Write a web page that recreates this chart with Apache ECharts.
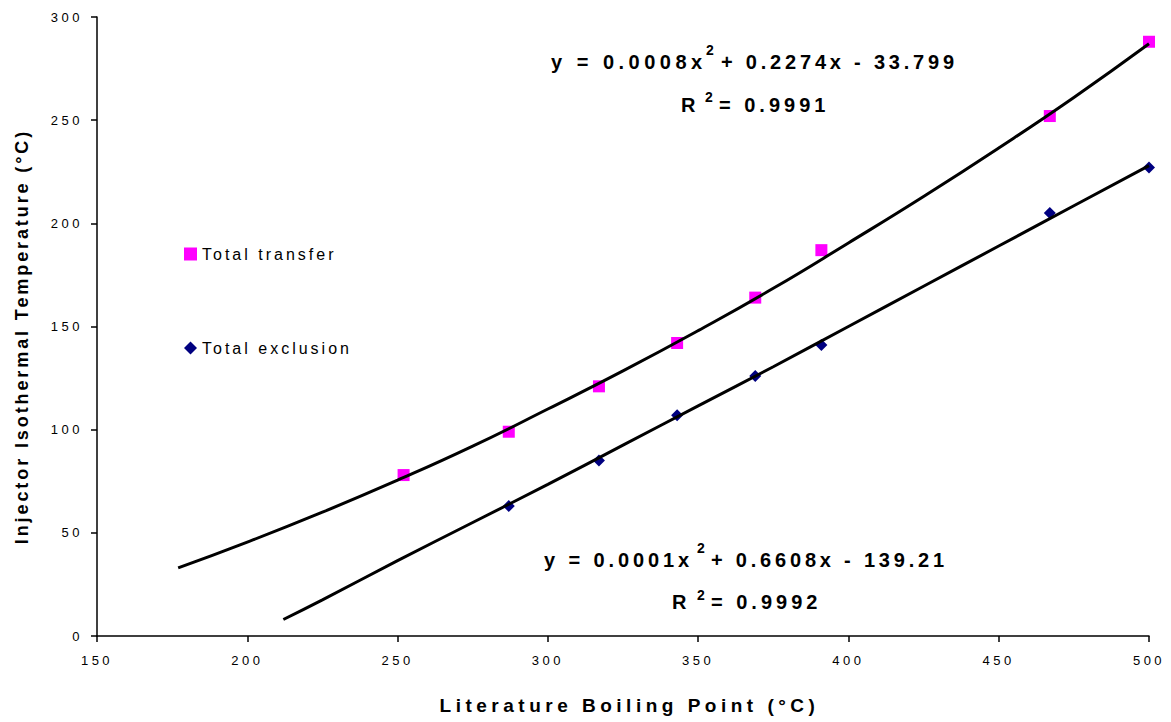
<!DOCTYPE html>
<html>
<head>
<meta charset="utf-8">
<script src="https://cdn.jsdelivr.net/npm/echarts@6/dist/echarts.min.js"></script>
<style>
  html, body { margin: 0; padding: 0; background: #fff; }
  #chart { width: 1171px; height: 722px; }
  #chart text { letter-spacing: 3.5px; }
</style>
</head>
<body>
<div id="chart"></div>
<script>
// ---- data ----
const transferX = [252, 287, 317, 343, 369, 391, 467, 500];
const transferY = [78, 99, 121, 142, 164, 187, 252, 288];
const exclusionX = [287, 317, 343, 369, 391, 467, 500];
const exclusionY = [63, 85, 107, 126, 141, 205, 227];
const transferTrendX = [177, 200, 225, 250, 275, 300, 325, 350, 375, 400, 425, 450, 475, 500];
const transferTrendY = [33, 45.5, 60, 75.5, 92, 110, 128.5, 148, 168.5, 190.5, 213, 236.5, 261, 287];
const exclusionTrendX = [212, 225, 250, 275, 300, 325, 350, 375, 400, 425, 450, 475, 500];
const exclusionTrendY = [8, 17.5, 36.5, 55, 73.5, 92.5, 111.5, 130.5, 150, 169.5, 189, 208.5, 228];
const seriesNames = ['Total transfer', 'Total exclusion'];
const xTitle = 'Literature Boiling Point (°C)';
const yTitle = 'Injector Isothermal Temperature (°C)';
const eqTransfer = ['y = 0.0008x', '2', '+ 0.2274x - 33.799'];
const r2Transfer = ['R', '2', '= 0.9991'];
const eqExclusion = ['y = 0.0001x', '2', '+ 0.6608x - 139.21'];
const r2Exclusion = ['R', '2', '= 0.9992'];

const zip = (xs, ys) => xs.map((x, i) => [x, ys[i]]);
const FONT = '"Liberation Sans", Arial, Helvetica, sans-serif';

// letter spacing (px) per text, applied to the SVG text nodes
const spacing = {};
spacing[xTitle] = 4.5;
spacing[yTitle] = 2.9;
seriesNames.forEach(n => spacing[n] = 3);
spacing[eqTransfer[0]] = 4.5;
spacing[eqExclusion[0]] = 3.9;
spacing['2'] = 0;
spacing[eqTransfer[2]] = 3.8;
spacing[eqExclusion[2]] = 3.8;
spacing['R'] = 0;
spacing[r2Transfer[2]] = 4;
spacing[r2Exclusion[2]] = 4;

function txt(str, x, y, size) {
  return {
    type: 'text', x: x, y: y, z: 100, silent: true,
    style: {
      text: str, fontSize: size, fontWeight: 'bold', fontFamily: FONT,
      fill: '#000', align: 'left', verticalAlign: 'middle'
    }
  };
}
function eqGroup(parts, xs, yMain, ySup) {
  return [
    txt(parts[0], xs[0], yMain, 20),
    txt(parts[1], xs[1], ySup, 14),
    txt(parts[2], xs[2], yMain, 20)
  ];
}

const chart = echarts.init(document.getElementById('chart'), null, { renderer: 'svg' });
chart.setOption({
  animation: false,
  backgroundColor: '#fff',
  textStyle: { fontFamily: FONT },
  grid: { left: 97, right: 22, top: 17, bottom: 86, containLabel: false, outerBoundsMode: 'none' },
  legend: {
    data: seriesNames,
    orient: 'vertical',
    left: 184, top: 246,
    padding: 0,
    itemGap: 78,
    itemWidth: 13, itemHeight: 13,
    textStyle: { fontSize: 16, color: '#000', fontFamily: FONT }
  },
  xAxis: {
    type: 'value', min: 150, max: 500, interval: 50,
    name: xTitle, nameLocation: 'middle', nameGap: 60,
    nameTextStyle: { fontSize: 19, fontWeight: 'bold', color: '#000', fontFamily: FONT, padding: [0, 0, 0, 13] },
    axisLine: { show: true, lineStyle: { color: '#000', width: 1.5 } },
    axisTick: { show: true, length: 6, lineStyle: { color: '#000', width: 1.5 } },
    axisLabel: { color: '#000', fontSize: 13, margin: 18, fontFamily: FONT },
    splitLine: { show: false }
  },
  yAxis: {
    type: 'value', min: 0, max: 300, interval: 50,
    name: yTitle, nameLocation: 'middle', nameGap: 66,
    nameTextStyle: { fontSize: 18, fontWeight: 'bold', color: '#000', fontFamily: FONT, padding: [0, 20, 0, 0] },
    axisLine: { show: true, lineStyle: { color: '#000', width: 1.5 } },
    axisTick: { show: true, length: 6, lineStyle: { color: '#000', width: 1.5 } },
    axisLabel: { color: '#000', fontSize: 13, margin: 14, fontFamily: FONT },
    splitLine: { show: false }
  },
  series: [
    {
      name: seriesNames[0], type: 'scatter', symbol: 'rect', symbolSize: 12,
      itemStyle: { color: '#FF00FF', opacity: 1 }, data: zip(transferX, transferY), z: 2
    },
    {
      name: seriesNames[1], type: 'scatter', symbol: 'diamond', symbolSize: 12,
      itemStyle: { color: '#000080', opacity: 1 }, data: zip(exclusionX, exclusionY), z: 2
    },
    {
      type: 'line', smooth: true, showSymbol: false, symbol: 'none',
      lineStyle: { color: '#000', width: 3 }, data: zip(transferTrendX, transferTrendY), z: 3
    },
    {
      type: 'line', smooth: true, showSymbol: false, symbol: 'none',
      lineStyle: { color: '#000', width: 3 }, data: zip(exclusionTrendX, exclusionTrendY), z: 3
    }
  ],
  graphic: [].concat(
    eqGroup(eqTransfer, [551, 706, 721], 62, 50),
    eqGroup(r2Transfer, [681, 705, 719], 105, 97),
    eqGroup(eqExclusion, [544, 697, 711], 560, 548),
    eqGroup(r2Exclusion, [672, 697, 711], 602, 595)
  )
});

function applySpacing() {
  document.querySelectorAll('#chart text').forEach(t => {
    const s = spacing[t.textContent];
    if (s !== undefined) t.style.letterSpacing = s + 'px';
  });
}
applySpacing();
chart.on('finished', applySpacing);
setTimeout(applySpacing, 0);
</script>
</body>
</html>
